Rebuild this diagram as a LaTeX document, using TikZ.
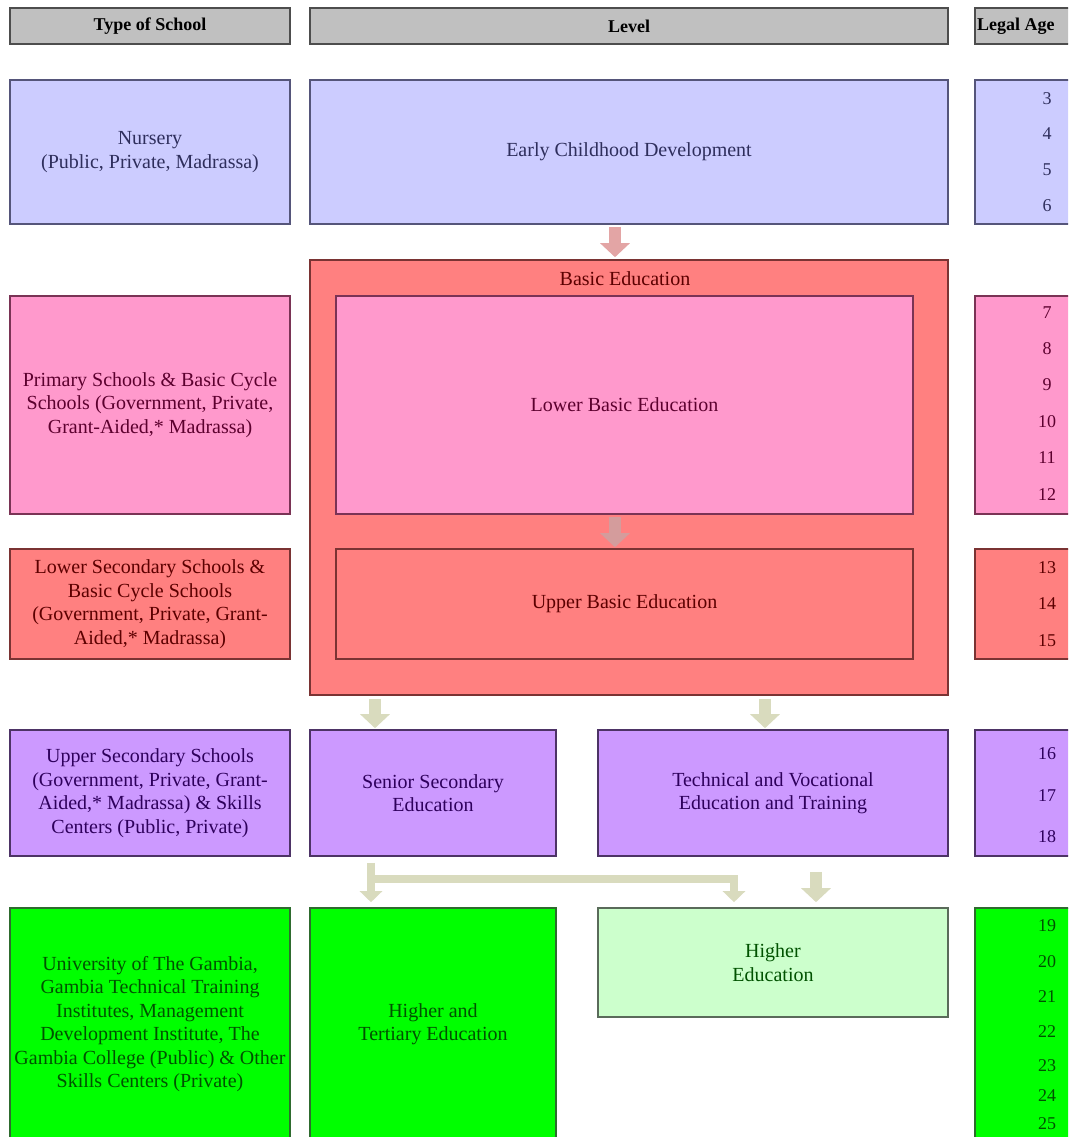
\documentclass[tikz,border=0pt]{standalone}
\usepackage{fontspec}
\setmainfont{Liberation Serif}
\usetikzlibrary{arrows.meta}
\definecolor{hdrfill}{HTML}{C0C0C0}
\definecolor{hdrline}{HTML}{4D4D4D}
\definecolor{lavfill}{HTML}{CCCCFF}
\definecolor{lavline}{HTML}{55557A}
\definecolor{lavtext}{HTML}{2E2E5C}
\definecolor{pinkfill}{HTML}{FF99CC}
\definecolor{pinkline}{HTML}{7A3355}
\definecolor{pinktext}{HTML}{5C002E}
\definecolor{redfill}{HTML}{FF8080}
\definecolor{redline}{HTML}{7A3333}
\definecolor{redtext}{HTML}{5C0000}
\definecolor{purfill}{HTML}{CC99FF}
\definecolor{purline}{HTML}{4D3366}
\definecolor{purtext}{HTML}{2E005C}
\definecolor{grnfill}{HTML}{00FF00}
\definecolor{grnline}{HTML}{2E6B2E}
\definecolor{grntext}{HTML}{005200}
\definecolor{lgrnfill}{HTML}{CCFFCC}
\definecolor{lgrnline}{HTML}{5A6B5A}
\definecolor{arrpink}{HTML}{E3A5A5}
\definecolor{arrgrey}{HTML}{D49C9C}
\definecolor{arrolive}{HTML}{D9DBBE}
\begin{document}
\begin{tikzpicture}[x=1pt,y=-1pt,
  box/.style={draw, rectangle, line width=1.6pt, inner sep=0pt, align=center,
    font=\fontsize{20}{23.5}\selectfont},
  hdr/.style={box, fill=hdrfill, draw=hdrline, minimum height=36pt,
    font=\fontsize{18}{20}\selectfont\bfseries},
  lav/.style={box, fill=lavfill, draw=lavline, text=lavtext},
  pink/.style={box, fill=pinkfill, draw=pinkline, text=pinktext},
  red/.style={box, fill=redfill, draw=redline, text=redtext},
  pur/.style={box, fill=purfill, draw=purline, text=purtext},
  grn/.style={box, fill=grnfill, draw=grnline, text=grntext},
  lgrn/.style={box, fill=lgrnfill, draw=lgrnline, text=grntext},
  lbl/.style={inner sep=0pt, align=center, font=\fontsize{20}{23.5}\selectfont},
  agenum/.style={inner sep=0pt, font=\fontsize{18}{20}\selectfont},
  bigarrow/.style={line width=12pt, -{Triangle[width=29pt,length=14pt]}},
  thinarrow/.style={line width=8pt, -{Triangle[width=22pt,length=11pt]}}
]
\useasboundingbox (0,0) rectangle (1068,1137);
\clip (0,0) rectangle (1068,1137);

% headers
\node[hdr, minimum width=280pt] (h1) at (150,26) {Type of School};
\node[hdr, minimum width=638pt] (h2) at (629,26) {Level};
\node[hdr, minimum width=150pt] (h3) at (1050,26) {};
\node[inner sep=0pt, anchor=west, font=\fontsize{18}{20}\selectfont\bfseries] (h3t) at (977,26) {Legal Age};

% row 1
\node[lav, minimum width=280pt, minimum height=144pt] (nur) at (150,152) {Nursery\\(Public, Private, Madrassa)};
\node[lav, minimum width=638pt, minimum height=144pt] (ecd) at (629,152) {Early Childhood Development};
\node[lav, minimum width=150pt, minimum height=144pt] (age1) at (1050,152) {};

% basic education
\node[red, minimum width=638pt, minimum height=435pt] (basic) at (629,477.5) {};
\node[lbl, text=redtext] (basicl) at (625,279) {Basic Education};
\node[pink, minimum width=577pt, minimum height=218pt] (lower) at (624.5,405) {Lower Basic Education};
\node[red, minimum width=577pt, minimum height=110pt] (upper) at (624.5,604) {Upper Basic Education};

\node[pink, minimum width=280pt, minimum height=218pt] (prim) at (150,405)
  {Primary Schools \& Basic Cycle\\Schools (Government, Private,\\Grant-Aided,* Madrassa)};
\node[pink, minimum width=150pt, minimum height=218pt] (age2) at (1050,405) {};
\node[red, minimum width=280pt, minimum height=110pt] (lsec) at (150,604)
  {Lower Secondary Schools \&\\Basic Cycle Schools\\(Government, Private, Grant-\\Aided,* Madrassa)};
\node[red, minimum width=150pt, minimum height=110pt] (age3) at (1050,604) {};

% secondary row
\node[pur, minimum width=280pt, minimum height=126pt] (usec) at (150,793)
  {Upper Secondary Schools\\(Government, Private, Grant-\\Aided,* Madrassa) \& Skills\\Centers (Public, Private)};
\node[pur, minimum width=246pt, minimum height=126pt] (senior) at (433,793) {Senior Secondary\\Education};
\node[pur, minimum width=350pt, minimum height=126pt] (tvet) at (773,793) {Technical and Vocational\\Education and Training};
\node[pur, minimum width=150pt, minimum height=126pt] (age4) at (1050,793) {};

% tertiary row
\node[grn, minimum width=280pt, minimum height=250pt] (univ) at (150,1033) {};
\node[lbl, text=grntext] (univt) at (150,1024)
  {University of The Gambia,\\Gambia Technical Training\\Institutes, Management\\Development Institute, The\\Gambia College (Public) \& Other\\Skills Centers (Private)};
\node[grn, minimum width=246pt, minimum height=250pt] (hte) at (433,1033) {};
\node[lbl, text=grntext] (htet) at (433,1024) {Higher and\\Tertiary Education};
\node[lgrn, minimum width=350pt, minimum height=109pt] (he) at (773,962.5) {Higher\\Education};
\node[grn, minimum width=150pt, minimum height=250pt] (age5) at (1050,1033) {};

% ages
\foreach \a/\y in {3/99,4/134,5/170,6/206}
  \node[agenum, text=lavtext] (n\a) at (1047,\y) {\a};
\foreach \a/\y in {7/313,8/349,9/385,10/422,11/458,12/495}
  \node[agenum, text=pinktext] (n\a) at (1047,\y) {\a};
\foreach \a/\y in {13/568,14/604,15/641}
  \node[agenum, text=redtext] (n\a) at (1047,\y) {\a};
\foreach \a/\y in {16/754,17/796,18/837}
  \node[agenum, text=purtext] (n\a) at (1047,\y) {\a};
\foreach \a/\y in {19/926,20/962,21/997,22/1032,23/1066,24/1096,25/1124}
  \node[agenum, text=grntext] (n\a) at (1047,\y) {\a};

% arrows
\coordinate (xa) at (615,0);
\coordinate (xb) at (375,0);
\coordinate (xc) at (765,0);
\coordinate (xd) at (371,0);
\coordinate (xe) at (734,0);
\coordinate (xf) at (816,0);
\coordinate (bar) at (0,879);
\draw[bigarrow, draw=arrpink, shorten <=2pt, shorten >=2pt] (xa |- ecd.south) -- (xa |- basic.north);
\draw[bigarrow, draw=arrgrey, shorten <=2pt, shorten >=1pt] (xa |- lower.south) -- (xa |- upper.north);
\draw[bigarrow, draw=arrolive, shorten <=3pt, shorten >=1pt] (xb |- basic.south) -- (xb |- senior.north);
\draw[bigarrow, draw=arrolive, shorten <=3pt, shorten >=1pt] (xc |- basic.south) -- (xc |- tvet.north);
\draw[thinarrow, draw=arrolive, shorten <=6pt, shorten >=5pt] (xd |- senior.south) -- (xd |- hte.north);
\draw[line width=8pt, draw=arrolive] (xd |- bar) -- (xe |- bar);
\draw[thinarrow, draw=arrolive, shorten >=5pt] ([yshift=4pt]xe |- bar) -- (xe |- he.north);
\draw[bigarrow, draw=arrolive, shorten <=15pt, shorten >=5pt] (xf |- tvet.south) -- (xf |- he.north);
\end{tikzpicture}
\end{document}
